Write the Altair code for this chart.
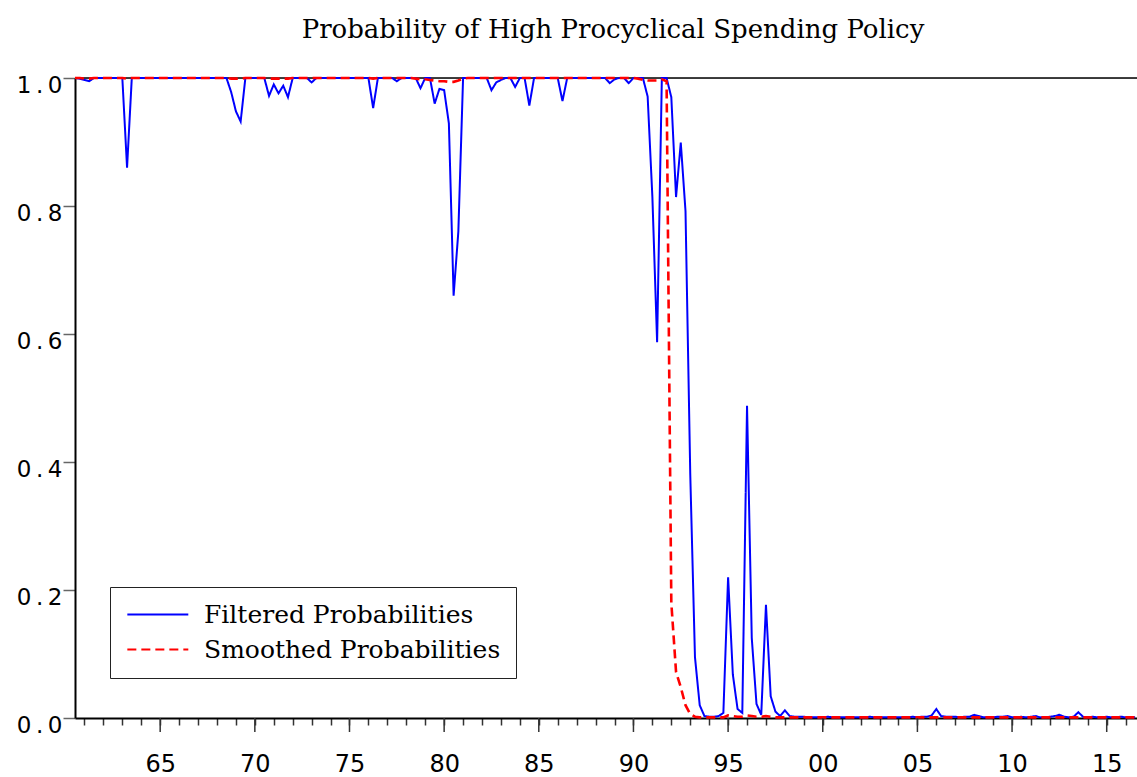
import altair as alt
import pandas as pd

START = 1960.5  # first observation: 1960 Q3, quarterly data

# Filtered probabilities, by year (quarters Q1..Q4; 1960 starts at Q3, 2016 ends at Q3)
filtered = [
    1.0, 0.999,                    # 1960 Q3-Q4
    0.997, 0.995, 1.0, 1.0,        # 1961
    1.0, 1.0, 1.0, 1.0,            # 1962
    1.0, 0.86, 1.0, 1.0,           # 1963
    1.0, 1.0, 1.0, 1.0,            # 1964
    1.0, 1.0, 1.0, 1.0,            # 1965
    1.0, 1.0, 1.0, 1.0,            # 1966
    1.0, 1.0, 1.0, 1.0,            # 1967
    1.0, 1.0, 1.0, 0.978,          # 1968
    0.948, 0.932, 1.0, 1.0,        # 1969
    1.0, 1.0, 1.0, 0.972,          # 1970
    0.99, 0.976, 0.988, 0.97,      # 1971
    1.0, 1.0, 1.0, 1.0,            # 1972
    0.993, 1.0, 1.0, 1.0,          # 1973
    1.0, 1.0, 1.0, 1.0,            # 1974
    1.0, 1.0, 1.0, 1.0,            # 1975
    1.0, 0.953, 1.0, 1.0,          # 1976
    1.0, 1.0, 0.995, 1.0,          # 1977
    1.0, 1.0, 1.0, 0.984,          # 1978
    1.0, 1.0, 0.96, 0.983,         # 1979
    0.981, 0.929, 0.66, 0.76,      # 1980
    1.0, 1.0, 1.0, 1.0,            # 1981
    1.0, 1.0, 0.981, 0.993,        # 1982
    0.997, 1.0, 1.0, 0.986,        # 1983
    1.0, 1.0, 0.957, 1.0,          # 1984
    1.0, 1.0, 1.0, 1.0,            # 1985
    1.0, 0.964, 1.0, 1.0,          # 1986
    1.0, 1.0, 1.0, 1.0,            # 1987
    1.0, 1.0, 1.0, 0.992,          # 1988
    0.998, 1.0, 1.0, 0.992,        # 1989
    1.0, 1.0, 1.0, 0.971,          # 1990
    0.814, 0.587, 1.0, 1.0,        # 1991
    0.97, 0.814, 0.899, 0.792,     # 1992
    0.382, 0.095, 0.02, 0.003,     # 1993
    0.002, 0.002, 0.003, 0.008,    # 1994
    0.22, 0.068, 0.014, 0.008,     # 1995
    0.488, 0.125, 0.022, 0.005,    # 1996
    0.177, 0.034, 0.01, 0.003,     # 1997
    0.012, 0.003, 0.002, 0.002,    # 1998
    0.002, 0.001, 0.001, 0.001,    # 1999
    0.001, 0.002, 0.001, 0.001,    # 2000
    0.001, 0.001, 0.001, 0.001,    # 2001
    0.001, 0.001, 0.002, 0.001,    # 2002
    0.001, 0.001, 0.001, 0.001,    # 2003
    0.001, 0.001, 0.001, 0.002,    # 2004
    0.001, 0.002, 0.002, 0.004,    # 2005
    0.014, 0.003, 0.002, 0.002,    # 2006
    0.002, 0.001, 0.002, 0.002,    # 2007
    0.005, 0.003, 0.001, 0.001,    # 2008
    0.001, 0.002, 0.002, 0.003,    # 2009
    0.001, 0.001, 0.002, 0.001,    # 2010
    0.002, 0.003, 0.001, 0.001,    # 2011
    0.002, 0.003, 0.005, 0.002,    # 2012
    0.001, 0.002, 0.009, 0.002,    # 2013
    0.001, 0.002, 0.001, 0.001,    # 2014
    0.002, 0.001, 0.001, 0.002,    # 2015
    0.001, 0.001, 0.001,           # 2016 Q1-Q3
]

# Smoothed probabilities
smoothed = [
    1.0, 1.0,                      # 1960 Q3-Q4
    0.999, 0.999, 1.0, 1.0,        # 1961
    1.0, 1.0, 1.0, 1.0,            # 1962
    1.0, 0.999, 1.0, 1.0,          # 1963
    1.0, 1.0, 1.0, 1.0,            # 1964
    1.0, 1.0, 1.0, 1.0,            # 1965
    1.0, 1.0, 1.0, 1.0,            # 1966
    1.0, 1.0, 1.0, 1.0,            # 1967
    1.0, 1.0, 1.0, 0.999,          # 1968
    0.999, 0.999, 1.0, 1.0,        # 1969
    1.0, 1.0, 1.0, 0.999,          # 1970
    0.999, 0.999, 0.999, 0.999,    # 1971
    1.0, 1.0, 1.0, 1.0,            # 1972
    1.0, 1.0, 1.0, 1.0,            # 1973
    1.0, 1.0, 1.0, 1.0,            # 1974
    1.0, 1.0, 1.0, 1.0,            # 1975
    1.0, 0.999, 1.0, 1.0,          # 1976
    1.0, 1.0, 1.0, 1.0,            # 1977
    1.0, 1.0, 0.999, 0.998,        # 1978
    0.998, 0.997, 0.996, 0.995,    # 1979
    0.995, 0.994, 0.994, 0.996,    # 1980
    0.999, 1.0, 1.0, 1.0,          # 1981
    1.0, 1.0, 1.0, 1.0,            # 1982
    1.0, 1.0, 1.0, 1.0,            # 1983
    1.0, 1.0, 1.0, 1.0,            # 1984
    1.0, 1.0, 1.0, 1.0,            # 1985
    1.0, 1.0, 1.0, 1.0,            # 1986
    1.0, 1.0, 1.0, 1.0,            # 1987
    1.0, 1.0, 1.0, 1.0,            # 1988
    1.0, 1.0, 1.0, 1.0,            # 1989
    1.0, 0.999, 0.997, 0.996,      # 1990
    0.996, 0.996, 0.998, 0.995,    # 1991
    0.18, 0.072, 0.048, 0.02,      # 1992
    0.006, 0.002, 0.001, 0.001,    # 1993
    0.001, 0.001, 0.001, 0.001,    # 1994
    0.004, 0.003, 0.002, 0.002,    # 1995
    0.004, 0.003, 0.002, 0.002,    # 1996
    0.003, 0.002, 0.001, 0.001,    # 1997
    0.001, 0.001, 0.001, 0.001,    # 1998
    0.001, 0.001, 0.001, 0.001,    # 1999
    0.001, 0.001, 0.001, 0.001,    # 2000
    0.001, 0.001, 0.001, 0.001,    # 2001
    0.001, 0.001, 0.001, 0.001,    # 2002
    0.001, 0.001, 0.001, 0.001,    # 2003
    0.001, 0.001, 0.001, 0.001,    # 2004
    0.001, 0.001, 0.001, 0.001,    # 2005
    0.001, 0.001, 0.001, 0.001,    # 2006
    0.001, 0.001, 0.001, 0.001,    # 2007
    0.001, 0.001, 0.001, 0.001,    # 2008
    0.001, 0.001, 0.001, 0.001,    # 2009
    0.001, 0.001, 0.001, 0.001,    # 2010
    0.001, 0.001, 0.001, 0.001,    # 2011
    0.001, 0.001, 0.001, 0.001,    # 2012
    0.001, 0.001, 0.001, 0.001,    # 2013
    0.001, 0.001, 0.001, 0.001,    # 2014
    0.001, 0.001, 0.001, 0.001,    # 2015
    0.001, 0.001, 0.001,           # 2016 Q1-Q3
]

series_names = ["Filtered Probabilities", "Smoothed Probabilities"]
series_colors = ["#0000ff", "#ff0000"]
series_dashes = [[1, 0], [9, 5]]
x_ticks = list(range(1961, 2017))                 # yearly minor ticks
x_major = [1965, 1970, 1975, 1980, 1985, 1990, 1995, 2000, 2005, 2010, 2015]
y_ticks = [0.0, 0.2, 0.4, 0.6, 0.8, 1.0]
title_text = "Probability of High Procyclical Spending Policy"

rows = []
for name, vals in zip(series_names, [filtered, smoothed]):
    for i, v in enumerate(vals):
        rows.append({"t": START + 0.25 * i, "p": v, "series": name})
df = pd.DataFrame(rows)

xscale = alt.Scale(domain=[1960.5, 2016.6], nice=False, zero=False)
yscale = alt.Scale(domain=[0, 1], nice=False)

xaxis = alt.Axis(
    values=x_ticks, title=None, grid=False,
    labelExpr="datum.value % 5 === 0 ? substring(toString(datum.value), 2, 4) : ''",
    labelFont="DejaVu Sans", labelFontSize=24, labelColor="black",
    labelBaseline="top", labelPadding=27, labelOverlap=False, labelFlush=False,
    tickSize=7, tickColor="#333333", tickWidth=1.5,
    domainColor="black", domainWidth=2,
)
yaxis = alt.Axis(
    values=y_ticks, title=None, grid=False,
    labelExpr="replace(format(datum.value, '.1f'), '.', '\u2009.\u2009')",
    labelFont="DejaVu Sans", labelFontSize=23, labelColor="black",
    labelAlign="right", labelBaseline="middle", labelOffset=7, labelPadding=1,
    tickSize=12, tickColor="#666666", tickWidth=1.5,
    domainColor="black", domainWidth=2,
)

legend = alt.Legend(
    title=None, orient="none", legendX=35, legendY=509,
    symbolType="M-1,0H5", symbolSize=413, symbolStrokeWidth=2.2,
    labelFont="DejaVu Serif", labelFontSize=25, labelColor="black",
    labelOffset=54, labelLimit=0, padding=15, rowPadding=9,
    strokeColor="#222222", fillColor="white",
)

color = alt.Color("series:N", scale=alt.Scale(domain=series_names, range=series_colors), legend=legend)
dash = alt.StrokeDash("series:N", scale=alt.Scale(domain=series_names, range=series_dashes), legend=legend)

base = alt.Chart(df).encode(
    x=alt.X("t:Q", scale=xscale, axis=xaxis),
    y=alt.Y("p:Q", scale=yscale, axis=yaxis),
    color=color,
    strokeDash=dash,
)

blue = base.transform_filter(alt.datum.series == series_names[0]).mark_line(strokeWidth=2)
red = base.transform_filter(alt.datum.series == series_names[1]).mark_line(strokeWidth=2.6)

top_line = alt.Chart(pd.DataFrame({"p": [1.0]})).mark_rule(color="black", strokeWidth=1.5).encode(
    y=alt.Y("p:Q", scale=yscale, axis=yaxis)
)

# longer ticks at every fifth year, below the x axis line
major_ticks = alt.Chart(pd.DataFrame({"t": x_major})).mark_rule(
    color="#333333", strokeWidth=1.5
).encode(
    x=alt.X("t:Q", scale=xscale, axis=xaxis),
    y=alt.value(640),
    y2=alt.value(654),
)

chart = alt.layer(top_line, blue, red, major_ticks).properties(
    width=1062, height=640,
    autosize=alt.AutoSizeParams(type="none"),
    padding={"left": 75, "top": 78, "right": 0, "bottom": 59},
    title=alt.TitleParams(
        text=title_text, font="DejaVu Serif", fontSize=26, fontWeight="normal",
        color="black", anchor="middle", frame="group", offset=9, dx=7,
        baseline="alphabetic",
    ),
).configure_view(stroke=None).configure(background="white")

chart.save("out.html", embed_options={"renderer": "svg", "actions": False})
